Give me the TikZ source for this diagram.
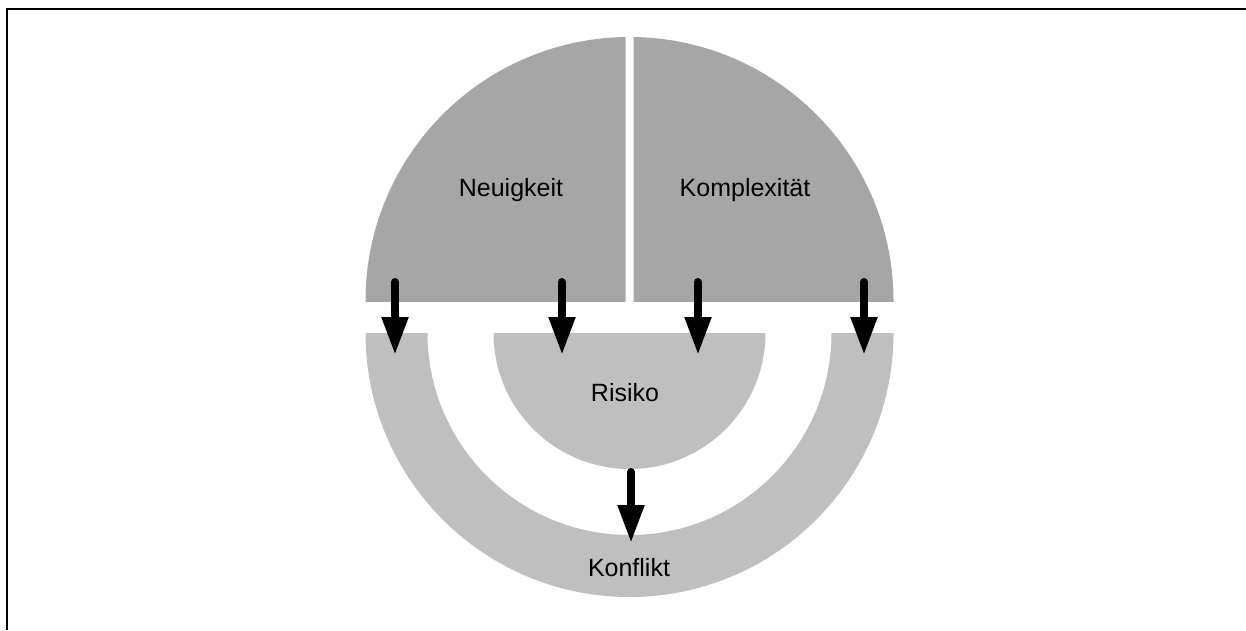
\documentclass[tikz,border=0pt]{standalone}
\usepackage{fontspec}
\setmainfont{Liberation Sans}
\usetikzlibrary{arrows.meta}
\definecolor{upper}{HTML}{A6A6A6}
\definecolor{lower}{HTML}{BFBFBF}
\tikzset{
  label/.style={font=\fontsize{25}{29}\selectfont, text=black, inner sep=0pt},
  flow/.style={line width=8pt, line cap=round, draw=black,
    -{Triangle[length=38pt, width=25pt]}},
}
\begin{document}
\begin{tikzpicture}[x=1pt, y=1pt]
  \useasboundingbox (0,0) rectangle (1246,630);
  % open frame along the left and top edges
  \draw[line width=2pt] (7,0) -- (7,621) -- (1246,621);

  % upper half disk, split into two quarters
  \begin{scope}
    \clip (0,329) rectangle (625.5,630);
    \fill[upper] (629.5,329) circle[radius=264];
  \end{scope}
  \begin{scope}
    \clip (633.5,329) rectangle (1246,630);
    \fill[upper] (629.5,329) circle[radius=264];
  \end{scope}

  % lower ring
  \fill[lower] (365.5,297) arc[start angle=180, end angle=360, radius=264]
    -- (831.5,297) arc[start angle=0, end angle=-180, radius=202] -- cycle;
  % inner half disk
  \fill[lower] (493.5,297) arc[start angle=180, end angle=360, radius=136] -- cycle;

  % labels
  \node[label] (neu) at (511,440) {Neuigkeit};
  \node[label] (kom) at (745,440) {Komplexität};
  \node[label] (ris) at (625,237) {Risiko};
  \node[label] (kon) at (629,62) {Konflikt};

  % arrow anchors
  \coordinate (a1s) at (395,348); \coordinate (a1e) at (395,275);
  \coordinate (a2s) at (562,348); \coordinate (a2e) at (562,275);
  \coordinate (a3s) at (698,348); \coordinate (a3e) at (698,275);
  \coordinate (a4s) at (864,348); \coordinate (a4e) at (864,275);
  \coordinate (a5s) at (631,158); \coordinate (a5e) at (631,87);

  \draw[flow] (a1s) -- (a1e);
  \draw[flow] (a2s) -- (a2e);
  \draw[flow] (a3s) -- (a3e);
  \draw[flow] (a4s) -- (a4e);
  \draw[flow] (a5s) -- (a5e);
\end{tikzpicture}
\end{document}
